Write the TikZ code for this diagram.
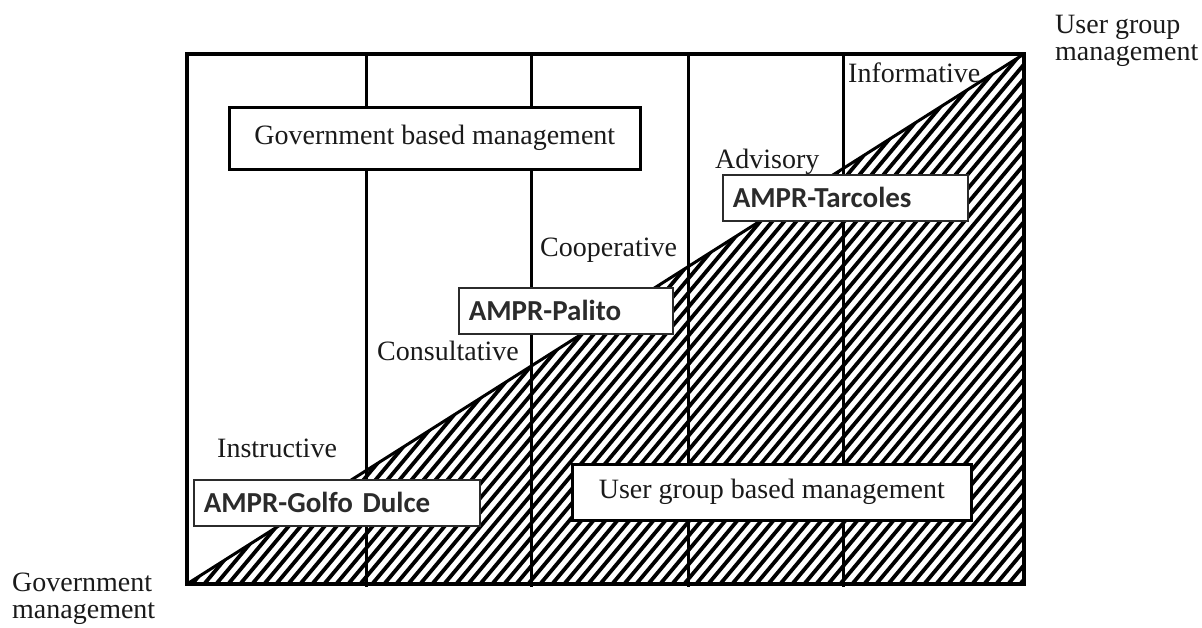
\documentclass[tikz,border=0pt]{standalone}
\usepackage{fontspec}
\setmainfont{Liberation Serif}
\newfontfamily\boxfont{Carlito}
\definecolor{ink}{HTML}{1A1A1A}
\definecolor{boxink}{HTML}{2B2B2B}
\begin{document}
\begin{tikzpicture}[x=1pt,y=-1pt,
  lbl/.style={font=\fontsize{28}{27}\selectfont, text=ink, inner sep=0pt, anchor=base west},
  cornerlbl/.style={font=\fontsize{28}{27}\selectfont, text=ink, inner sep=0pt, anchor=north west, align=left},
  bigbox/.style={draw=black, line width=2.6pt, fill=white, font=\fontsize{28}{30}\selectfont, text=ink, anchor=north west, inner sep=0pt},
  amprbox/.style={draw=boxink, line width=1.6pt, fill=white, font=\boxfont\bfseries\fontsize{29}{32}\selectfont, text=boxink, anchor=north west, inner xsep=10pt, inner ysep=0pt, align=left},
  frameline/.style={line width=4pt},
  divline/.style={line width=3pt},
  hatchline/.style={line width=3.8pt}
]
\useasboundingbox (0,0) rectangle (1202,628);
% corners
\coordinate (bl) at (187,584);
\coordinate (tl) at (187,54);
\coordinate (tr) at (1024,54);
\coordinate (br) at (1024,584);
% hatched triangle
\begin{scope}
  \clip (bl) -- (tr) -- (br) -- cycle;
  \foreach \k in {0,...,118} {
    \draw[hatchline] (-330+12*\k,620) -- ++(520,-620);
  }
\end{scope}
% vertical dividers
\foreach \n/\x in {a/366,b/531,c/688,d/843} {
  \coordinate (t\n) at (\x,54);
  \coordinate (b\n) at (\x,587);
  \draw[divline] (t\n) -- (b\n);
}
% diagonal
\draw[divline] (bl) -- (tr);
% frame
\draw[frameline] (bl) rectangle (tr);
% boxes
\node[bigbox, minimum width=411pt, minimum height=62pt] (gov) at (228,106) {Government based management};
\node[bigbox, minimum width=399pt, minimum height=56pt] (user) at (571,463) {User group based management};
\node[amprbox, minimum height=46pt, text width=194pt] (palito) at (458,287) {AMPR-Palito};
\node[amprbox, minimum height=46pt, text width=225pt] (tarcoles) at (722,174) {AMPR-Tarcoles};
\node[amprbox, minimum height=46pt, text width=266pt] (golfo) at (193,479) {AMPR-Golfo Dulce};
% stage labels
\node[lbl] (instr) at (217,457) {Instructive};
\node[lbl] (consult) at (377,360) {Consultative};
\node[lbl] (coop) at (540,257) {Cooperative};
\node[lbl] (advis) at (715,169) {Advisory};
\node[lbl] (inform) at (848,83) {Informative};
% axis corner labels
\node[cornerlbl] (govm) at (12,573) {Government\\management};
\node[cornerlbl] (userm) at (1055,15) {User group\\management};
\end{tikzpicture}
\end{document}
